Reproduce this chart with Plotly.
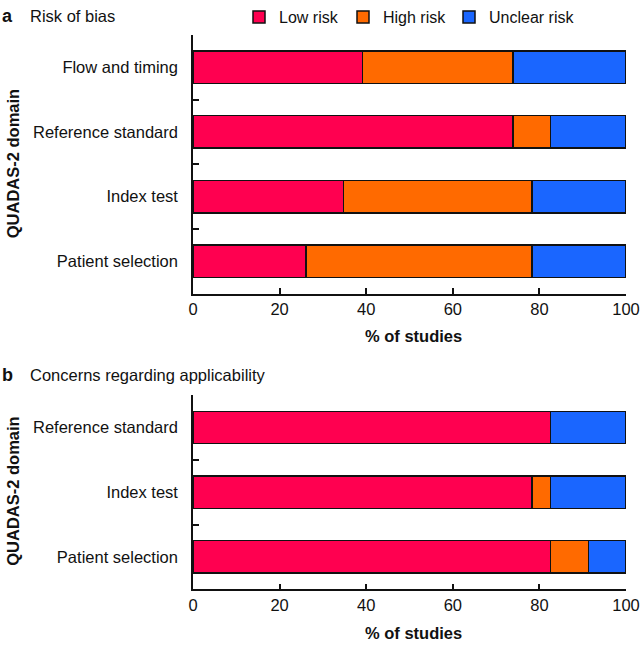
import plotly.graph_objects as go

cats_a = ["Patient selection", "Index test", "Reference standard", "Flow and timing"]
low_a = [26.1, 34.8, 73.9, 39.1]
high_a = [52.2, 43.5, 8.7, 34.8]
unclear_a = [21.7, 21.7, 17.4, 26.1]

cats_b = ["Patient selection", "Index test", "Reference standard"]
low_b = [82.6, 78.3, 82.6]
high_b = [8.7, 4.3, 0.0]
unclear_b = [8.7, 17.4, 17.4]

series_names = ["Low risk", "High risk", "Unclear risk"]
colors = ["#FF0050", "#FF6A00", "#1A66FF"]
x_ticks = [0, 20, 40, 60, 80, 100]

W, H = 640, 648
FONT = "Liberation Sans, Arial, Helvetica, sans-serif"
FS = 16.5

def px(x):
    return x / W

def py(y):
    return 1 - y / H

legend_ids = ["legend", "legend2", "legend3"]
legend_x = [239, 343, 449]

fig = go.Figure()
for name, col, va, vb, lid in zip(series_names, colors, [low_a, high_a, unclear_a], [low_b, high_b, unclear_b], legend_ids):
    fig.add_trace(go.Bar(y=cats_a, x=va, orientation="h", name=name,
                         marker=dict(color=col, line=dict(color="#111", width=1.5)),
                         width=0.5, xaxis="x", yaxis="y", showlegend=True, legend=lid))
    fig.add_trace(go.Bar(y=cats_b, x=vb, orientation="h", name=name,
                         marker=dict(color=col, line=dict(color="#111", width=1.5)),
                         width=0.5, xaxis="x2", yaxis="y2", showlegend=False))

xd = [px(193), px(626)]
common_x = dict(range=[0, 100], tickvals=x_ticks, ticks="inside", ticklen=6, tickwidth=1.5, tickcolor="#111",
                showline=True, linewidth=1.5, linecolor="#111", showgrid=False, zeroline=False,
                tickfont=dict(size=FS, color="#111"), domain=xd, fixedrange=True, automargin=False)
common_y = dict(type="category", tickson="boundaries", ticks="inside", ticklen=6, tickwidth=1.5, tickcolor="#111",
                showline=True, linewidth=1.5, linecolor="#111", showgrid=False, zeroline=False,
                tickfont=dict(size=FS, color="#111"), ticklabelstandoff=10, fixedrange=True, automargin=False)

legend_common = dict(orientation="h", y=py(14), xanchor="left", yanchor="middle",
                     font=dict(size=16), itemclick=False, bgcolor="rgba(0,0,0,0)", itemwidth=30)

fig.update_layout(
    width=W, height=H, barmode="stack", autosize=False,
    margin=dict(l=0, r=0, t=0, b=0, pad=0),
    paper_bgcolor="white", plot_bgcolor="white",
    font=dict(family=FONT, color="#111", size=FS),
    xaxis=dict(**common_x, anchor="y"),
    yaxis=dict(**common_y, anchor="x", domain=[py(292), py(32)], categoryarray=cats_a, categoryorder="array"),
    xaxis2=dict(**common_x, anchor="y2"),
    yaxis2=dict(**common_y, anchor="x2", domain=[py(589), py(394)], categoryarray=cats_b, categoryorder="array"),
    legend=dict(**legend_common, x=px(legend_x[0])),
    legend2=dict(**legend_common, x=px(legend_x[1])),
    legend3=dict(**legend_common, x=px(legend_x[2])),
    bargap=0.5,
)

ann = [
    dict(text="<b>a</b>", x=px(0), y=py(13), font=dict(size=18)),
    dict(text="Risk of bias", x=px(28), y=py(13), font=dict(size=FS)),
    dict(text="<b>b</b>", x=px(0), y=py(374), font=dict(size=18)),
    dict(text="Concerns regarding applicability", x=px(28), y=py(374), font=dict(size=FS)),
]
for a in ann:
    fig.add_annotation(xref="paper", yref="paper", xanchor="left", yanchor="middle", showarrow=False, **a)
for yy in [335, 633]:
    fig.add_annotation(text="<b>% of studies</b>", xref="paper", yref="paper", x=px(413), y=py(yy),
                       xanchor="center", yanchor="middle", showarrow=False, font=dict(size=FS))
for yy in [162, 491]:
    fig.add_annotation(text="<b>QUADAS-2 domain</b>", xref="paper", yref="paper", x=px(13), y=py(yy),
                       xanchor="center", yanchor="middle", textangle=-90, showarrow=False, font=dict(size=FS))

fig.write_html("out.html", config={"displayModeBar": False},
               post_script="document.body.style.margin='0';document.body.style.overflow='hidden';")
